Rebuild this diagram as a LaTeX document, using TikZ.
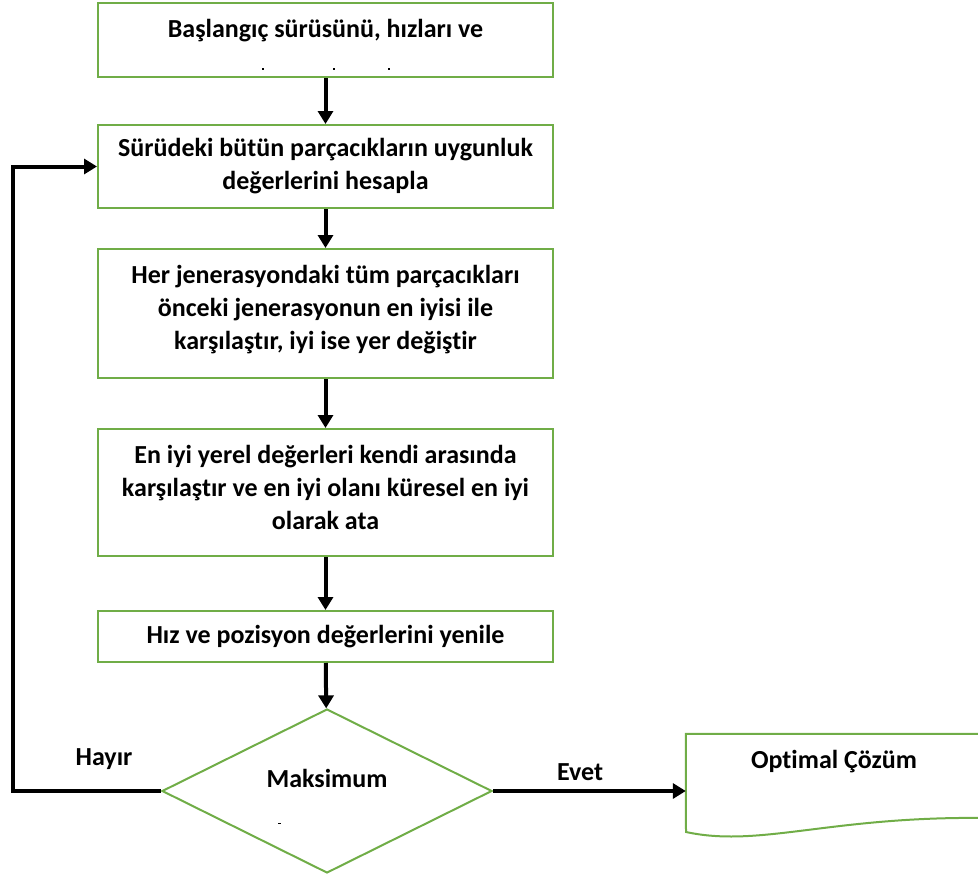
\documentclass[tikz,border=0pt]{standalone}
\usepackage{fontspec}
\setmainfont[Ligatures=NoCommon]{Carlito}
\usetikzlibrary{arrows.meta,shapes.geometric}
\definecolor{boxgreen}{RGB}{112,173,71}

\begin{document}
\begin{tikzpicture}[x=1pt,y=-1pt,
  box/.style={draw=boxgreen, line width=2pt, fill=white, minimum width=455pt,
    align=center, inner sep=0pt, font=\bfseries\fontsize{26}{33}\selectfont},
  txt/.style={align=center, inner sep=0pt, font=\bfseries\fontsize{26}{33}\selectfont},
  flow/.style={line width=4pt, -{Triangle[length=13pt,width=15pt]}},
  dot/.style={fill=black, minimum size=2.5pt, inner sep=0pt}]

\useasboundingbox (0,0) rectangle (978,878);
\clip (0,0) rectangle (978,878);

% process boxes
\node[box, minimum height=74pt]  (b1) at (325.5,40) {};
\node[txt] (t1) at (325.5,31) {Başlangıç sürüsünü, hızları ve};
\node[dot] (p1) at (263,69) {};
\node[dot] (p2) at (334,69) {};
\node[dot] (p3) at (389,69) {};

\node[box, minimum height=83pt]  (b2) at (325.5,166.5)
  {Sürüdeki bütün parçacıkların uygunluk\\değerlerini hesapla};
\node[box, minimum height=129pt, text depth=12pt] (b3) at (325.5,313.5)
  {Her jenerasyondaki tüm parçacıkları\\önceki jenerasyonun en iyisi ile\\karşılaştır, iyi ise yer değiştir};
\node[box, minimum height=127pt, text depth=10pt] (b4) at (325.5,492.5)
  {En iyi yerel değerleri kendi arasında\\karşılaştır ve en iyi olanı küresel en iyi\\olarak ata};
\node[box, minimum height=51pt]  (b5) at (325.5,636.5)
  {Hız ve pozisyon değerlerini yenile};

% decision
\node[diamond, draw=boxgreen, line width=2pt, minimum width=330pt,
  minimum height=164pt, inner sep=0pt] (d) at (327,791) {};
\node[txt] (dt) at (327,778) {Maksimum};
\node[fill=black, minimum width=3pt, minimum height=1pt, inner sep=0pt] (dm) at (279,823) {};

% terminal document shape
\node[minimum width=300pt, minimum height=100pt, inner sep=0pt] (doc) at (836,784) {};
\draw[boxgreen, line width=2pt]
  (doc.north east) -- (doc.north west) -- (686,832)
  .. controls (760,848) and (830,816) .. (986,818);
\node[txt] (dtx) at (834,762) {Optimal Çözüm};

% connectors
\draw[flow] (b1) -- (b2);
\draw[flow] (b2) -- (b3);
\draw[flow] (b3) -- (b4);
\draw[flow] (b4) -- (b5);
\draw[flow] (b5) -- (d);
\draw[flow] (d.west) -- (13,791) |- (b2.west);
\draw[flow] (d.east) -- (d.east -| doc.west);

% branch labels
\node[txt] (no) at (104,759) {Hayır};
\node[txt] (yes) at (580,772) {Evet};
\end{tikzpicture}
\end{document}
